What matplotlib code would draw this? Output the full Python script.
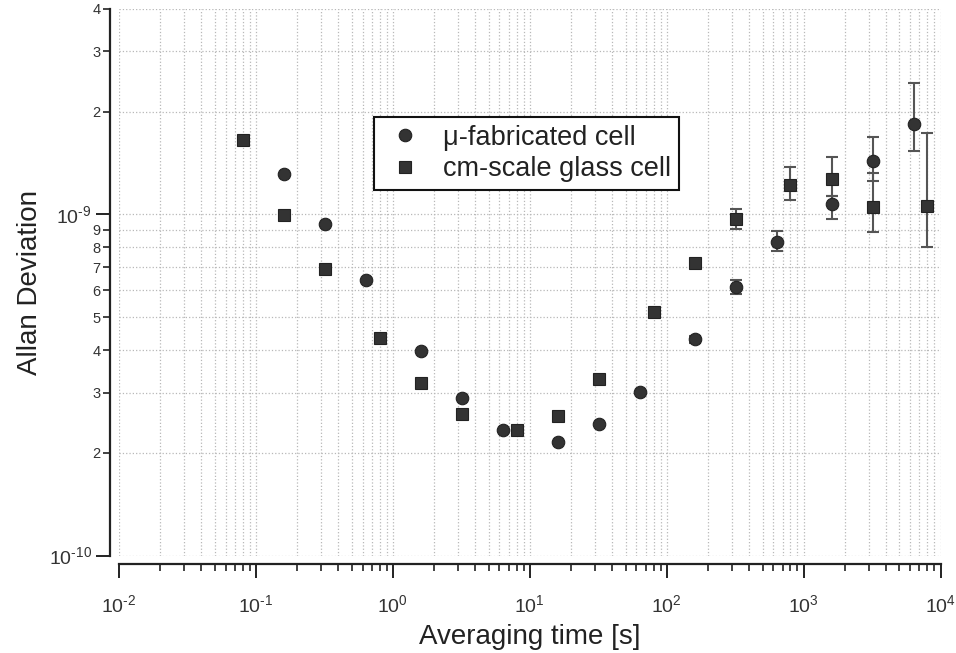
import numpy as np
import matplotlib
matplotlib.use("Agg")
import matplotlib.pyplot as plt
from matplotlib.ticker import FixedLocator, FuncFormatter, NullFormatter

plt.rcParams['font.family'] = ['Liberation Sans', 'DejaVu Sans']
plt.rcParams['mathtext.fontset'] = 'custom'
plt.rcParams['mathtext.rm'] = 'Liberation Sans'

# cm-scale glass cell (squares)
tau_glass = [0.08, 0.16, 0.32, 0.8, 1.6, 3.2, 8, 16, 32, 80, 160, 320, 800, 1600, 3200, 8000]
adev_glass = [1.65, 0.995, 0.69, 0.434, 0.32, 0.26, 0.233, 0.256, 0.33, 0.517,
              0.72, 0.967, 1.22, 1.27, 1.05, 1.06]
lo_glass = [1.65, 0.995, 0.69, 0.434, 0.32, 0.26, 0.233, 0.256, 0.33, 0.517,
            0.71, 0.905, 1.10, 1.13, 0.888, 0.80]
hi_glass = [1.65, 0.995, 0.69, 0.434, 0.32, 0.26, 0.233, 0.256, 0.33, 0.517,
            0.735, 1.04, 1.38, 1.47, 1.32, 1.73]

# micro-fabricated cell (circles)
tau_micro = [0.16, 0.32, 0.64, 1.6, 3.2, 6.4, 16, 32, 64, 160, 320, 640, 1600, 3200, 6400]
adev_micro = [1.31, 0.937, 0.642, 0.398, 0.29, 0.233, 0.215, 0.243, 0.301, 0.43,
              0.611, 0.828, 1.07, 1.43, 1.84]
lo_micro = [1.31, 0.937, 0.642, 0.398, 0.29, 0.233, 0.215, 0.243, 0.301, 0.42,
            0.584, 0.779, 0.967, 1.25, 1.53]
hi_micro = [1.31, 0.937, 0.642, 0.398, 0.29, 0.233, 0.215, 0.243, 0.301, 0.44,
            0.642, 0.894, 1.13, 1.68, 2.42]

scale = 1e-9
mark_col = '#333333'
err_col = '#555555'

fig = plt.figure(figsize=(9.56, 6.53), dpi=100)
ax = fig.add_axes([0.1245, 0.149, 0.8595, 0.8375])


def draw_errors(tau, y, lo, hi):
    tau = np.array(tau)
    y = np.array(y) * scale
    lo = np.array(lo) * scale
    hi = np.array(hi) * scale
    m = hi > y
    ax.errorbar(tau[m], y[m], yerr=[y[m] - lo[m], hi[m] - y[m]], fmt='none',
                ecolor=err_col, elinewidth=1.5, capsize=4, capthick=1.5, zorder=2)


draw_errors(tau_micro, adev_micro, lo_micro, hi_micro)
draw_errors(tau_glass, adev_glass, lo_glass, hi_glass)

ax.plot(tau_micro, np.array(adev_micro) * scale, 'o', ms=9, mfc=mark_col, mec='#222222',
        mew=0.8, ls='none', label=u'\u03bc-fabricated cell', zorder=3)
ax.plot(tau_glass, np.array(adev_glass) * scale, 's', ms=9, mfc=mark_col, mec='#222222',
        mew=0.8, ls='none', label='cm-scale glass cell', zorder=3)

ax.set_xscale('log')
ax.set_yscale('log')
ax.set_xlim(1e-2, 1e4)
ax.set_ylim(1e-10, 4e-9)

# axes look
for s in ['top', 'right']:
    ax.spines[s].set_visible(False)
ax.spines['left'].set_position(('outward', 6.5))
ax.spines['bottom'].set_position(('outward', 6))
for s in ['left', 'bottom']:
    ax.spines[s].set_linewidth(1.6)
    ax.spines[s].set_color('#222222')


def major_label(v, pos):
    e = int(round(np.log10(v)))
    if e < 0:
        return '$10^{\u2010%d}$' % (-e)
    return '$10^{%d}$' % e


def minor_label(v, pos):
    e = np.floor(np.log10(v) + 1e-9)
    return '%d' % round(v / 10 ** e)


# ticks only inside the axis range
x_major = [10.0 ** e for e in range(-2, 5)]
x_minor = [k * 10.0 ** e for e in range(-2, 4) for k in range(2, 10)]
y_major = [1e-10, 1e-9]
y_minor = [k * 1e-10 for k in range(2, 10)] + [k * 1e-9 for k in range(2, 5)]

ax.xaxis.set_major_locator(FixedLocator(x_major))
ax.xaxis.set_major_formatter(FuncFormatter(major_label))
ax.xaxis.set_minor_locator(FixedLocator(x_minor))
ax.xaxis.set_minor_formatter(NullFormatter())

ax.yaxis.set_major_locator(FixedLocator(y_major))
ax.yaxis.set_major_formatter(FuncFormatter(major_label))
ax.yaxis.set_minor_locator(FixedLocator(y_minor))
ax.yaxis.set_minor_formatter(FuncFormatter(minor_label))

ax.tick_params(which='major', direction='out', length=10, width=1.4, color='#222222',
               labelsize=14, labelcolor='#333333')
ax.tick_params(which='minor', direction='out', length=5, width=1.2, color='#222222')
ax.tick_params(axis='x', which='major', pad=12)
ax.tick_params(axis='y', which='minor', labelsize=10.5, labelcolor='#333333', pad=2)
ax.tick_params(axis='y', which='major', pad=3)

ax.grid(True, which='both', ls=':', lw=0.9, color='#b8b8b8')
ax.set_axisbelow(True)

ax.set_xlabel('Averaging time [s]', fontsize=20, color='#222222', labelpad=5)
ax.set_ylabel('Allan Deviation', fontsize=20, color='#222222', labelpad=4)

leg = ax.legend(loc='upper left', bbox_to_anchor=(0.31, 0.803), fontsize=19.5,
                frameon=True, fancybox=False, framealpha=1, edgecolor='#111111',
                borderpad=0.3, borderaxespad=0, handletextpad=0.55, labelspacing=0.2,
                handlelength=1.7)
leg.get_frame().set_linewidth(1.5)
for t in leg.get_texts():
    t.set_color('#222222')

fig.savefig('out.png', dpi=100)
